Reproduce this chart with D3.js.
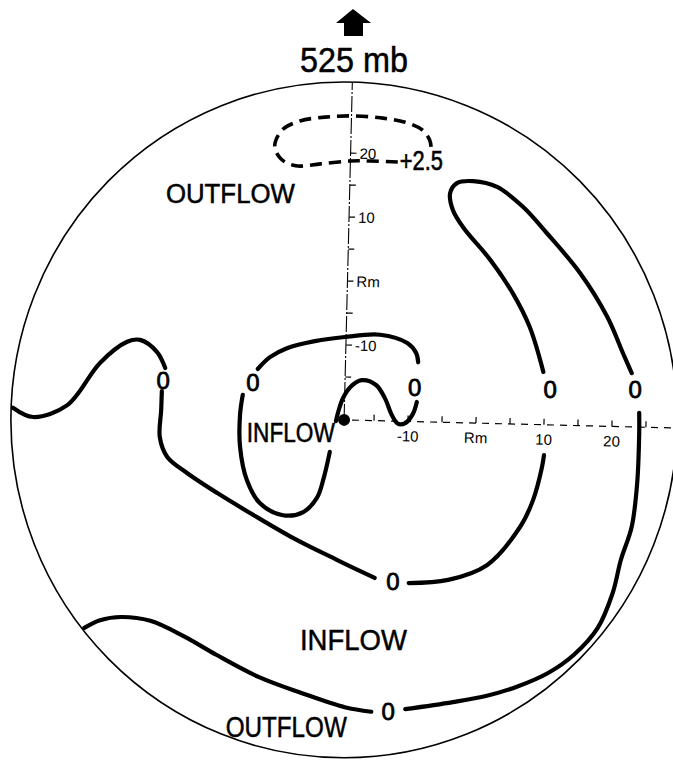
<!DOCTYPE html>
<html>
<head>
<meta charset="utf-8">
<script src="https://cdn.jsdelivr.net/npm/d3@7"></script>
<style>
  html, body { margin: 0; padding: 0; background: #fff; }
  svg { display: block; }
</style>
</head>
<body>
<div id="chart"></div>
<script>
var width = 673, height = 760;

// storm-relative coordinates in axis units (Rm = 0 on both axes)
var stormCenter = [-19.4, -21.7];
var boundaryRadius = [49, 52.8];

var hTicks = [-15, -10, -5, 0, 5, 10, 15, 20, 25];
var vTicks = [-15, -10, -5, 0, 5, 10, 15, 20];
var tickNames = {"-10": "-10", "0": "Rm", "10": "10", "20": "20"};

// zero contour, broken at every "0" label
var zeroContour = [
  [[-68.1,-19.8],[-65.1,-21.25],[-60.1,-19.4],[-55.3,-12.8],[-51.3,-9.5],[-49.4,-9.2],[-46.9,-11.1],[-45.7,-13.6]],
  [[-46.2,-17.2],[-46.3,-20.2],[-46.5,-24.4],[-45.4,-27.5],[-42.5,-30.0],[-38.1,-33.1],[-32.2,-36.9],[-26.3,-40.5],[-20.4,-43.6],[-14.9,-46.4]],
  [[-9.9,-47.2],[-4.1,-46.7],[1.6,-44.4],[6.5,-38.4],[8.4,-34.2],[9.7,-29.1],[10.0,-27.2]],
  [[9.9,-14.2],[7.9,-7.2],[5.4,-1.9],[2.1,3.3],[-1.9,8.4],[-3.4,11.1],[-3.8,13.75],[-2.8,15.3],[-0.4,15.6],[3.1,14.7],[6.9,11.6],[10.4,7.5],[15.3,1.25],[19.3,-5.6],[21.6,-11.25],[22.9,-14.4]],
  [[24.0,-20.6],[24.0,-23.75],[23.7,-31.6],[22.9,-38.4],[21.3,-43.6],[20.1,-48.75],[17.9,-54.2],[14.4,-58.4],[10.6,-61.25],[6.0,-63.4],[1.6,-64.8],[-3.4,-65.8],[-10.4,-66.9]],
  [[-15.4,-67.3],[-19.3,-66.6],[-25.6,-64.4],[-31.9,-61.9],[-38.2,-58.4],[-42.8,-55.6],[-47.9,-53.1],[-52.2,-52.5],[-55.3,-53.0],[-57.6,-54.2]]
];

// closed zero contour around the centre (broken by labels)
var innerContour = [
  [[-32.1,-13.75],[-30.3,-11.9],[-27.8,-10.5],[-23.7,-9.4],[-19.3,-8.75],[-14.1,-8.4],[-10.1,-9.7],[-8.8,-11.25],[-8.5,-12.7]],
  [[-8.7,-18.9],[-9.3,-20.8],[-10.4,-22.2],[-11.5,-22.3],[-12.4,-20.9],[-13.4,-18.3],[-14.7,-16.25],[-16.8,-15.5],[-18.5,-16.6],[-19.6,-18.4],[-20.3,-20.6],[-20.6,-21.9]],
  [[-21.5,-26.7],[-22.4,-30.8],[-23.4,-33.9],[-25.4,-36.1],[-28.4,-36.6],[-31.8,-34.7],[-33.7,-31.1],[-34.7,-25.9],[-34.7,-20.9],[-34.3,-17.8]]
];

// +2.5 contour (dashed)
var plusContour = [[-11.5,18.6],[-15.6,18.75],[-18.5,18.75],[-22.9,18.3],[-26.5,18.0],[-28.7,19.1],[-29.6,21.1],[-28.5,23.6],[-25.9,25.0],[-22.2,25.6],[-18.5,25.8],[-14.1,25.5],[-10.4,24.8],[-7.9,23.6],[-6.8,22.0],[-6.6,20.8]];

var zeroMarks = [[-46.0,-15.5],[-32.8,-15.8],[-9.0,-16.6],[10.9,-16.9],[23.4,-17.0],[-12.2,-46.9],[-12.9,-67.2]];
var plusMark = [-11.2, 17.3];

var regionNames = ["OUTFLOW", "INFLOW", "INFLOW", "OUTFLOW"];
var regionSpots = [[-45.6,12.2],[-33.7,-25.2],[-25.9,-57.7],[-36.8,-71.25]];
var regionSize = [27, 27, 30, 29];
var regionLen = [129, 88, 107, 121];

var svg = d3.select("#chart").append("svg")
  .attr("width", width)
  .attr("height", height)
  .style("background", "#fff");

var x = d3.scaleLinear().domain([0, 10]).range([476, 544]);
var y = d3.scaleLinear().domain([0, 10]).range([281, 217]);

var cx = x(stormCenter[0]), cy = y(stormCenter[1]);
var font = "'Liberation Sans', Arial, Helvetica, sans-serif";

// header arrow + level
svg.append("path")
  .attr("transform", "translate(353,9)")
  .attr("d", "M0,0 L18,14 L10,14 L10,27 L-9,27 L-9,14 L-17,14 Z")
  .attr("fill", "#000");
svg.append("text")
  .attr("x", 354).attr("y", 72)
  .attr("text-anchor", "middle")
  .attr("font-family", font)
  .attr("font-size", 35)
  .attr("stroke", "#000").attr("stroke-width", 0.5)
  .attr("textLength", 108).attr("lengthAdjust", "spacingAndGlyphs")
  .text("525 mb");

// boundary circle
svg.append("ellipse")
  .attr("cx", cx).attr("cy", cy)
  .attr("rx", x(stormCenter[0] + boundaryRadius[0]) - cx)
  .attr("ry", cy - y(stormCenter[1] + boundaryRadius[1]))
  .attr("fill", "none")
  .attr("stroke", "#000")
  .attr("stroke-width", 1.6);

// axes (slightly rotated as in the original)
var axes = svg.append("g").attr("transform", `rotate(1.4, ${cx}, ${cy})`);
axes.append("line")
  .attr("x1", cx + 8).attr("x2", width + 10)
  .attr("y1", cy).attr("y2", cy)
  .attr("stroke", "#000").attr("stroke-width", 1.2)
  .attr("stroke-dasharray", "7,6");
axes.append("line")
  .attr("x1", cx).attr("x2", cx)
  .attr("y1", cy).attr("y2", y(stormCenter[1] + boundaryRadius[1]))
  .attr("stroke", "#000").attr("stroke-width", 1.1)
  .attr("stroke-dasharray", "16,2,2,2");

axes.selectAll(".htick").data(hTicks).join("line")
  .attr("class", "htick")
  .attr("x1", d => x(d)).attr("x2", d => x(d))
  .attr("y1", cy).attr("y2", cy - 6)
  .attr("stroke", "#000").attr("stroke-width", 1.2);
axes.selectAll(".hlab").data(hTicks.filter(d => tickNames[d])).join("text")
  .attr("class", "hlab")
  .attr("x", d => x(d)).attr("y", cy + 20)
  .attr("text-anchor", "middle")
  .attr("font-family", font).attr("font-size", 15)
  .text(d => tickNames[d]);

axes.selectAll(".vtick").data(vTicks).join("line")
  .attr("class", "vtick")
  .attr("x1", cx).attr("x2", cx + 6)
  .attr("y1", d => y(d)).attr("y2", d => y(d))
  .attr("stroke", "#000").attr("stroke-width", 1.2);
axes.selectAll(".vlab").data(vTicks.filter(d => tickNames[d])).join("text")
  .attr("class", "vlab")
  .attr("x", cx + 9).attr("y", d => y(d))
  .attr("dy", "0.36em")
  .attr("font-family", font).attr("font-size", 15)
  .text(d => tickNames[d]);

// contours
var line = d3.line()
  .x(d => x(d[0]))
  .y(d => y(d[1]))
  .curve(d3.curveCatmullRom.alpha(0.5));

svg.selectAll(".zero").data(zeroContour.concat(innerContour)).join("path")
  .attr("class", "zero")
  .attr("d", line)
  .attr("fill", "none")
  .attr("stroke", "#000")
  .attr("stroke-width", 4.2)
  .attr("stroke-linecap", "round");

svg.append("path")
  .attr("d", line(plusContour))
  .attr("fill", "none")
  .attr("stroke", "#000")
  .attr("stroke-width", 3.6)
  .attr("stroke-dasharray", "12,7");

// centre dot
svg.append("circle")
  .attr("cx", cx).attr("cy", cy).attr("r", 6)
  .attr("fill", "#000");

// contour labels
svg.selectAll(".zlab").data(zeroMarks).join("text")
  .attr("class", "zlab")
  .attr("x", d => x(d[0])).attr("y", d => y(d[1]))
  .attr("dy", "0.36em")
  .attr("text-anchor", "middle")
  .attr("font-family", font).attr("font-size", 24)
  .attr("stroke", "#000").attr("stroke-width", 0.8)
  .text("0");

svg.append("text")
  .attr("x", x(plusMark[0])).attr("y", y(plusMark[1]))
  .attr("font-family", font).attr("font-size", 27)
  .attr("stroke", "#000").attr("stroke-width", 0.6)
  .attr("textLength", 43).attr("lengthAdjust", "spacingAndGlyphs")
  .text("+2.5");

// region labels
svg.selectAll(".region").data(regionNames).join("text")
  .attr("class", "region")
  .attr("x", (d, i) => x(regionSpots[i][0]))
  .attr("y", (d, i) => y(regionSpots[i][1]))
  .attr("font-family", font)
  .attr("font-size", (d, i) => regionSize[i])
  .attr("stroke", "#000").attr("stroke-width", 0.5)
  .attr("textLength", (d, i) => regionLen[i])
  .attr("lengthAdjust", "spacingAndGlyphs")
  .text(d => d);
</script>
</body>
</html>
